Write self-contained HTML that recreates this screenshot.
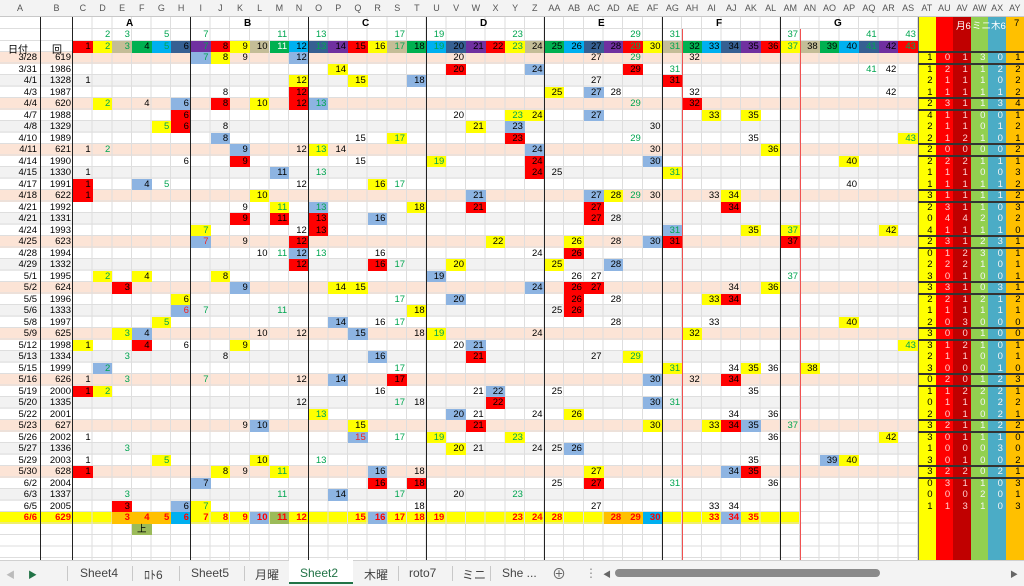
<!DOCTYPE html>
<html><head><meta charset="utf-8">
<style>
*{margin:0;padding:0;box-sizing:border-box}
body{width:1024px;height:586px;overflow:hidden;background:#fff;position:relative;font-family:"Liberation Sans","Noto Sans CJK JP",sans-serif;font-size:9.5px;color:#000}
.hd{position:absolute;left:0;top:0;width:1024px;height:17px;background:#f3f3f3;border-bottom:1px solid #c8c8c8}
.hd span{position:absolute;top:3px;color:#555;font-size:9px;text-align:center}
.st{position:absolute;left:0;width:918px;height:11.5px;top:calc(52px + var(--r)*11.5px)}
.P{background:#fce4d6}.G{background:#f2f2f2}.Y{background:#ffff00;width:800px}
.grid{position:absolute;left:73px;top:17px;width:845px;height:543px;background:repeating-linear-gradient(90deg,transparent 0 18.65px,#dedede 18.65px 19.65px)}
.hgrid{position:absolute;left:0;top:52px;width:918px;height:508px;background:repeating-linear-gradient(180deg,transparent 0 10.5px,#dedede 10.5px 11.5px)}
.hline{position:absolute;left:0;width:918px;height:1px;background:#dedede}
.R{position:absolute;left:0;width:918px;height:11.5px;top:calc(52px + var(--r)*11.5px)}
.R i,.H i{position:absolute;font-style:normal;left:calc(73px + (var(--c) - 1)*19.65px);width:19.65px;height:11.5px;line-height:11.5px;text-align:right;padding-right:2px}
.R b{position:absolute;font-weight:normal;height:11.5px;line-height:11.5px;text-align:right}
.R b.a{left:0;width:37px}.R b.n{left:40px;width:31px}
.y{background:#ffff00}.b{background:#8db4e2}.r{background:#ff0000}.g{color:#00a550}
.o{background:#ffc000}.cy{background:#00b0f0}.ol{background:#9bbb59}
.Z i,.Z b{color:#f00;font-weight:bold}
.H{position:absolute;left:0;width:918px;height:12px}
.H i{height:12px;line-height:12px}
.c1{background:#f00}.c2{background:#ff0}.c3{background:#c4bd97}.c4{background:#00b050}.c5{background:#00b0f0}.c6{background:#366092}.c7{background:#7030a0}
.vl{position:absolute;width:1px;background:#222}
.rl{position:absolute;width:1px;background:#f05050}
.sc{position:absolute;top:17px;height:543px;width:17.6px}
.st2{position:absolute;left:918px;width:106px;height:11.5px;top:calc(52px + var(--r)*11.5px);display:flex}
.st2 u{text-decoration:none;width:17.6px;text-align:right;padding-right:3px;line-height:11.5px}
.st2 u:nth-child(1),.st2 u:nth-child(6){color:#000}
.st2 u:nth-child(2),.st2 u:nth-child(3){color:#ffd0d0}
.st2 u:nth-child(4),.st2 u:nth-child(5){color:#f4f4f4}
.hl{position:absolute;left:918px;width:106px;height:1.5px;background:#333}
.tabs{position:absolute;left:0;top:560px;width:1024px;height:26px;background:#f3f3f3;border-top:1px solid #d0d0d0;font-size:12px;color:#444}
.tabs span{position:absolute;top:5px}
.sep{position:absolute;top:5px;width:1px;height:15px;background:#c8c8c8}
</style></head><body>
<div class="hd">
<span style="left:0;width:40px">A</span><span style="left:40px;width:33px">B</span>
<span style="left:73px;width:19.65px">C</span><span style="left:92.65px;width:19.65px">D</span><span style="left:112.3px;width:19.65px">E</span><span style="left:131.95px;width:19.65px">F</span><span style="left:151.6px;width:19.65px">G</span><span style="left:171.25px;width:19.65px">H</span><span style="left:190.9px;width:19.65px">I</span><span style="left:210.55px;width:19.65px">J</span><span style="left:230.2px;width:19.65px">K</span><span style="left:249.85px;width:19.65px">L</span><span style="left:269.5px;width:19.65px">M</span><span style="left:289.15px;width:19.65px">N</span><span style="left:308.8px;width:19.65px">O</span><span style="left:328.45px;width:19.65px">P</span><span style="left:348.1px;width:19.65px">Q</span><span style="left:367.75px;width:19.65px">R</span><span style="left:387.4px;width:19.65px">S</span><span style="left:407.05px;width:19.65px">T</span><span style="left:426.7px;width:19.65px">U</span><span style="left:446.35px;width:19.65px">V</span><span style="left:466px;width:19.65px">W</span><span style="left:485.65px;width:19.65px">X</span><span style="left:505.3px;width:19.65px">Y</span><span style="left:524.95px;width:19.65px">Z</span><span style="left:544.6px;width:19.65px">AA</span><span style="left:564.25px;width:19.65px">AB</span><span style="left:583.9px;width:19.65px">AC</span><span style="left:603.55px;width:19.65px">AD</span><span style="left:623.2px;width:19.65px">AE</span><span style="left:642.85px;width:19.65px">AF</span><span style="left:662.5px;width:19.65px">AG</span><span style="left:682.15px;width:19.65px">AH</span><span style="left:701.8px;width:19.65px">AI</span><span style="left:721.45px;width:19.65px">AJ</span><span style="left:741.1px;width:19.65px">AK</span><span style="left:760.75px;width:19.65px">AL</span><span style="left:780.4px;width:19.65px">AM</span><span style="left:800.05px;width:19.65px">AN</span><span style="left:819.7px;width:19.65px">AO</span><span style="left:839.35px;width:19.65px">AP</span><span style="left:859px;width:19.65px">AQ</span><span style="left:878.65px;width:19.65px">AR</span><span style="left:898.3px;width:19.65px">AS</span>
<span style="left:918px;width:17.6px">AT</span><span style="left:935.6px;width:17.6px">AU</span><span style="left:953.2px;width:17.6px">AV</span><span style="left:970.8px;width:17.6px">AW</span><span style="left:988.4px;width:17.6px">AX</span><span style="left:1006px;width:17.6px">AY</span>
</div>

<div class="st P" style="--r:0"></div><div class="st G" style="--r:2"></div><div class="st P" style="--r:4"></div><div class="st G" style="--r:6"></div><div class="st P" style="--r:8"></div><div class="st G" style="--r:10"></div><div class="st P" style="--r:12"></div><div class="st G" style="--r:14"></div><div class="st P" style="--r:16"></div><div class="st G" style="--r:18"></div><div class="st P" style="--r:20"></div><div class="st G" style="--r:22"></div><div class="st P" style="--r:24"></div><div class="st G" style="--r:26"></div><div class="st P" style="--r:28"></div><div class="st G" style="--r:30"></div><div class="st P" style="--r:32"></div><div class="st G" style="--r:34"></div><div class="st P" style="--r:36"></div><div class="st G" style="--r:38"></div><div class="st Y" style="--r:40"></div>
<div class="hgrid"></div>
<div class="hline" style="top:28px"></div><div class="hline" style="top:40px"></div><div class="hline" style="top:51px"></div>
<div class="grid"></div>

<div class="H" style="top:17px;font-weight:bold;font-size:10px">
<span style="position:absolute;left:126px;top:1px">A</span><span style="position:absolute;left:244px;top:1px">B</span><span style="position:absolute;left:362px;top:1px">C</span><span style="position:absolute;left:480px;top:1px">D</span><span style="position:absolute;left:598px;top:1px">E</span><span style="position:absolute;left:716px;top:1px">F</span><span style="position:absolute;left:834px;top:1px">G</span>
</div>
<div class="H" style="top:29px">
<i style="--c:2" class="g">2</i><i style="--c:3" class="g">3</i><i style="--c:5" class="g">5</i><i style="--c:7" class="g">7</i><i style="--c:11" class="g">11</i><i style="--c:13" class="g">13</i><i style="--c:17" class="g">17</i><i style="--c:19" class="g">19</i><i style="--c:23" class="g">23</i><i style="--c:29" class="g">29</i><i style="--c:31" class="g">31</i><i style="--c:37" class="g">37</i><i style="--c:41" class="g">41</i><i style="--c:43" class="g">43</i>
</div>
<div class="H" style="top:41px;height:11.5px">
<span style="position:absolute;left:8px;top:0;font-size:10px">日付</span><span style="position:absolute;left:52px;top:0;font-size:10px">回</span>
<i style="--c:1" class="c1">1</i><i style="--c:2" class="c2 g">2</i><i style="--c:3" class="c3 g">3</i><i style="--c:4" class="c4">4</i><i style="--c:5" class="c5 g">5</i><i style="--c:6" class="c6">6</i><i style="--c:7" class="c7 g">7</i><i style="--c:8" class="c1">8</i><i style="--c:9" class="c2">9</i><i style="--c:10" class="c3">10</i><i style="--c:11;color:#fff" class="c4">11</i><i style="--c:12" class="c5">12</i><i style="--c:13" class="c6 g">13</i><i style="--c:14" class="c7">14</i><i style="--c:15" class="c1">15</i><i style="--c:16" class="c2">16</i><i style="--c:17" class="c3 g">17</i><i style="--c:18" class="c4">18</i><i style="--c:19" class="c5 g">19</i><i style="--c:20" class="c6">20</i><i style="--c:21" class="c7">21</i><i style="--c:22" class="c1">22</i><i style="--c:23" class="c2 g">23</i><i style="--c:24" class="c3">24</i><i style="--c:25" class="c4">25</i><i style="--c:26" class="c5">26</i><i style="--c:27" class="c6">27</i><i style="--c:28" class="c7">28</i><i style="--c:29" class="c1 g">29</i><i style="--c:30" class="c2">30</i><i style="--c:31" class="c3 g">31</i><i style="--c:32" class="c4">32</i><i style="--c:33" class="c5">33</i><i style="--c:34" class="c6">34</i><i style="--c:35" class="c7">35</i><i style="--c:36" class="c1">36</i><i style="--c:37" class="c2 g">37</i><i style="--c:38" class="c3">38</i><i style="--c:39" class="c4">39</i><i style="--c:40" class="c5">40</i><i style="--c:41" class="c6 g">41</i><i style="--c:42" class="c7">42</i><i style="--c:43" class="c1 g">43</i>
</div>

<div class="R" style="--r:0"><b class="a">3/28</b><b class="n">619</b><i style="--c:7" class="b g">7</i><i style="--c:8" class="y">8</i><i style="--c:9">9</i><i style="--c:12" class="b">12</i><i style="--c:20">20</i><i style="--c:27">27</i><i style="--c:29" class="g">29</i><i style="--c:32">32</i></div>
<div class="R" style="--r:1"><b class="a">3/31</b><b class="n">1986</b><i style="--c:14" class="y">14</i><i style="--c:20" class="r">20</i><i style="--c:24" class="b">24</i><i style="--c:29" class="r">29</i><i style="--c:31" class="g">31</i><i style="--c:41" class="g">41</i><i style="--c:42">42</i></div>
<div class="R" style="--r:2"><b class="a">4/1</b><b class="n">1328</b><i style="--c:1">1</i><i style="--c:12" class="y">12</i><i style="--c:15" class="y">15</i><i style="--c:18" class="b">18</i><i style="--c:27">27</i><i style="--c:31" class="r">31</i></div>
<div class="R" style="--r:3"><b class="a">4/3</b><b class="n">1987</b><i style="--c:8">8</i><i style="--c:12" class="r">12</i><i style="--c:25" class="y">25</i><i style="--c:27" class="b">27</i><i style="--c:28">28</i><i style="--c:32">32</i><i style="--c:42">42</i></div>
<div class="R" style="--r:4"><b class="a">4/4</b><b class="n">620</b><i style="--c:2" class="y g">2</i><i style="--c:4">4</i><i style="--c:6" class="b">6</i><i style="--c:8" class="r">8</i><i style="--c:10" class="y">10</i><i style="--c:12" class="r">12</i><i style="--c:13" class="b g">13</i><i style="--c:29" class="g">29</i><i style="--c:32" class="r">32</i></div>
<div class="R" style="--r:5"><b class="a">4/7</b><b class="n">1988</b><i style="--c:6" class="r">6</i><i style="--c:20">20</i><i style="--c:23" class="y g">23</i><i style="--c:24" class="y">24</i><i style="--c:27" class="b">27</i><i style="--c:33" class="y">33</i><i style="--c:35" class="y">35</i></div>
<div class="R" style="--r:6"><b class="a">4/8</b><b class="n">1329</b><i style="--c:5" class="y g">5</i><i style="--c:6" class="r">6</i><i style="--c:8">8</i><i style="--c:21" class="y">21</i><i style="--c:23" class="b">23</i><i style="--c:30">30</i></div>
<div class="R" style="--r:7"><b class="a">4/10</b><b class="n">1989</b><i style="--c:8" class="b">8</i><i style="--c:15">15</i><i style="--c:17" class="y g">17</i><i style="--c:23" class="r">23</i><i style="--c:29" class="g">29</i><i style="--c:35">35</i><i style="--c:43" class="y g">43</i></div>
<div class="R" style="--r:8"><b class="a">4/11</b><b class="n">621</b><i style="--c:1">1</i><i style="--c:2" class="g">2</i><i style="--c:9" class="b">9</i><i style="--c:12">12</i><i style="--c:13" class="y g">13</i><i style="--c:14">14</i><i style="--c:24" class="b">24</i><i style="--c:30">30</i><i style="--c:36" class="y">36</i></div>
<div class="R" style="--r:9"><b class="a">4/14</b><b class="n">1990</b><i style="--c:6">6</i><i style="--c:9" class="r">9</i><i style="--c:15">15</i><i style="--c:19" class="y g">19</i><i style="--c:24" class="r">24</i><i style="--c:30" class="b">30</i><i style="--c:40" class="y">40</i></div>
<div class="R" style="--r:10"><b class="a">4/15</b><b class="n">1330</b><i style="--c:1">1</i><i style="--c:11" class="b">11</i><i style="--c:13" class="g">13</i><i style="--c:24" class="r">24</i><i style="--c:25">25</i><i style="--c:31" class="y g">31</i></div>
<div class="R" style="--r:11"><b class="a">4/17</b><b class="n">1991</b><i style="--c:1" class="r">1</i><i style="--c:4" class="b">4</i><i style="--c:5" class="g">5</i><i style="--c:12">12</i><i style="--c:16" class="y">16</i><i style="--c:17" class="g">17</i><i style="--c:40">40</i></div>
<div class="R" style="--r:12"><b class="a">4/18</b><b class="n">622</b><i style="--c:1" class="r">1</i><i style="--c:10" class="y">10</i><i style="--c:21" class="b">21</i><i style="--c:27" class="b">27</i><i style="--c:28" class="y">28</i><i style="--c:29" class="g">29</i><i style="--c:30">30</i><i style="--c:33">33</i><i style="--c:34" class="y">34</i></div>
<div class="R" style="--r:13"><b class="a">4/21</b><b class="n">1992</b><i style="--c:9">9</i><i style="--c:11" class="y g">11</i><i style="--c:13" class="b g">13</i><i style="--c:18" class="y">18</i><i style="--c:21" class="r">21</i><i style="--c:27" class="r">27</i><i style="--c:34" class="r">34</i></div>
<div class="R" style="--r:14"><b class="a">4/21</b><b class="n">1331</b><i style="--c:9" class="r">9</i><i style="--c:11" class="r">11</i><i style="--c:13" class="r">13</i><i style="--c:16" class="b">16</i><i style="--c:27" class="r">27</i><i style="--c:28">28</i></div>
<div class="R" style="--r:15"><b class="a">4/24</b><b class="n">1993</b><i style="--c:7" class="y g">7</i><i style="--c:12">12</i><i style="--c:13" class="r">13</i><i style="--c:31" class="b g">31</i><i style="--c:35" class="y">35</i><i style="--c:37" class="y g">37</i><i style="--c:42" class="y">42</i></div>
<div class="R" style="--r:16"><b class="a">4/25</b><b class="n">623</b><i style="--c:7;color:#e22" class="b">7</i><i style="--c:9">9</i><i style="--c:12" class="r">12</i><i style="--c:22" class="y">22</i><i style="--c:26" class="y">26</i><i style="--c:28">28</i><i style="--c:30" class="b">30</i><i style="--c:31" class="r">31</i><i style="--c:37" class="r">37</i></div>
<div class="R" style="--r:17"><b class="a">4/28</b><b class="n">1994</b><i style="--c:10">10</i><i style="--c:11" class="g">11</i><i style="--c:12" class="b">12</i><i style="--c:13" class="g">13</i><i style="--c:16">16</i><i style="--c:24">24</i><i style="--c:26" class="r">26</i></div>
<div class="R" style="--r:18"><b class="a">4/29</b><b class="n">1332</b><i style="--c:12" class="r">12</i><i style="--c:16" class="r">16</i><i style="--c:17" class="g">17</i><i style="--c:20" class="y">20</i><i style="--c:25" class="y">25</i><i style="--c:28" class="b">28</i></div>
<div class="R" style="--r:19"><b class="a">5/1</b><b class="n">1995</b><i style="--c:2" class="y g">2</i><i style="--c:4" class="y">4</i><i style="--c:8" class="y">8</i><i style="--c:19" class="b">19</i><i style="--c:26">26</i><i style="--c:27">27</i><i style="--c:37" class="g">37</i></div>
<div class="R" style="--r:20"><b class="a">5/2</b><b class="n">624</b><i style="--c:3" class="r">3</i><i style="--c:9" class="b">9</i><i style="--c:14" class="y">14</i><i style="--c:15" class="y">15</i><i style="--c:24" class="b">24</i><i style="--c:26" class="r">26</i><i style="--c:27" class="r">27</i><i style="--c:34">34</i><i style="--c:36" class="y">36</i></div>
<div class="R" style="--r:21"><b class="a">5/5</b><b class="n">1996</b><i style="--c:6" class="y">6</i><i style="--c:17" class="g">17</i><i style="--c:20" class="b">20</i><i style="--c:26" class="r">26</i><i style="--c:28">28</i><i style="--c:33" class="y">33</i><i style="--c:34" class="r">34</i></div>
<div class="R" style="--r:22"><b class="a">5/6</b><b class="n">1333</b><i style="--c:6;color:#e22" class="b">6</i><i style="--c:7" class="g">7</i><i style="--c:11" class="g">11</i><i style="--c:18" class="y">18</i><i style="--c:25">25</i><i style="--c:26" class="r">26</i></div>
<div class="R" style="--r:23"><b class="a">5/8</b><b class="n">1997</b><i style="--c:5" class="y g">5</i><i style="--c:14" class="b">14</i><i style="--c:16">16</i><i style="--c:17" class="g">17</i><i style="--c:28">28</i><i style="--c:33">33</i><i style="--c:40" class="y">40</i></div>
<div class="R" style="--r:24"><b class="a">5/9</b><b class="n">625</b><i style="--c:3" class="y g">3</i><i style="--c:4" class="b">4</i><i style="--c:10">10</i><i style="--c:12">12</i><i style="--c:15" class="b">15</i><i style="--c:18">18</i><i style="--c:19" class="y g">19</i><i style="--c:24">24</i><i style="--c:32" class="y">32</i></div>
<div class="R" style="--r:25"><b class="a">5/12</b><b class="n">1998</b><i style="--c:1" class="y">1</i><i style="--c:4" class="r">4</i><i style="--c:6">6</i><i style="--c:9" class="y">9</i><i style="--c:20">20</i><i style="--c:21" class="b">21</i><i style="--c:43" class="y g">43</i></div>
<div class="R" style="--r:26"><b class="a">5/13</b><b class="n">1334</b><i style="--c:3" class="g">3</i><i style="--c:8">8</i><i style="--c:16" class="b">16</i><i style="--c:21" class="r">21</i><i style="--c:27">27</i><i style="--c:29" class="y g">29</i></div>
<div class="R" style="--r:27"><b class="a">5/15</b><b class="n">1999</b><i style="--c:2" class="b g">2</i><i style="--c:17" class="g">17</i><i style="--c:31" class="y g">31</i><i style="--c:34">34</i><i style="--c:35" class="y">35</i><i style="--c:36">36</i><i style="--c:38" class="y">38</i></div>
<div class="R" style="--r:28"><b class="a">5/16</b><b class="n">626</b><i style="--c:1">1</i><i style="--c:3" class="g">3</i><i style="--c:7" class="g">7</i><i style="--c:12">12</i><i style="--c:14" class="b">14</i><i style="--c:17" class="r">17</i><i style="--c:30" class="b">30</i><i style="--c:32">32</i><i style="--c:34" class="r">34</i></div>
<div class="R" style="--r:29"><b class="a">5/19</b><b class="n">2000</b><i style="--c:1" class="r">1</i><i style="--c:2" class="y g">2</i><i style="--c:16">16</i><i style="--c:21">21</i><i style="--c:22" class="b">22</i><i style="--c:25">25</i><i style="--c:35">35</i></div>
<div class="R" style="--r:30"><b class="a">5/20</b><b class="n">1335</b><i style="--c:12">12</i><i style="--c:17" class="g">17</i><i style="--c:18">18</i><i style="--c:22" class="r">22</i><i style="--c:30" class="b">30</i><i style="--c:31" class="g">31</i></div>
<div class="R" style="--r:31"><b class="a">5/22</b><b class="n">2001</b><i style="--c:13" class="y g">13</i><i style="--c:20" class="b">20</i><i style="--c:21">21</i><i style="--c:24">24</i><i style="--c:26" class="y">26</i><i style="--c:34">34</i><i style="--c:36">36</i></div>
<div class="R" style="--r:32"><b class="a">5/23</b><b class="n">627</b><i style="--c:9">9</i><i style="--c:10" class="b">10</i><i style="--c:15" class="y">15</i><i style="--c:21" class="r">21</i><i style="--c:30" class="y">30</i><i style="--c:33" class="y">33</i><i style="--c:34" class="r">34</i><i style="--c:35" class="b">35</i><i style="--c:37" class="g">37</i></div>
<div class="R" style="--r:33"><b class="a">5/26</b><b class="n">2002</b><i style="--c:1">1</i><i style="--c:15;color:#e22" class="b">15</i><i style="--c:17" class="g">17</i><i style="--c:19" class="y g">19</i><i style="--c:23" class="y g">23</i><i style="--c:36">36</i><i style="--c:42" class="y">42</i></div>
<div class="R" style="--r:34"><b class="a">5/27</b><b class="n">1336</b><i style="--c:3" class="g">3</i><i style="--c:20" class="y">20</i><i style="--c:21">21</i><i style="--c:24">24</i><i style="--c:25">25</i><i style="--c:26" class="b">26</i></div>
<div class="R" style="--r:35"><b class="a">5/29</b><b class="n">2003</b><i style="--c:1">1</i><i style="--c:5" class="y g">5</i><i style="--c:10" class="y">10</i><i style="--c:13" class="g">13</i><i style="--c:35">35</i><i style="--c:39" class="b">39</i><i style="--c:40" class="y">40</i></div>
<div class="R" style="--r:36"><b class="a">5/30</b><b class="n">628</b><i style="--c:1" class="r">1</i><i style="--c:8" class="y">8</i><i style="--c:9">9</i><i style="--c:11" class="y g">11</i><i style="--c:16" class="b">16</i><i style="--c:18">18</i><i style="--c:27" class="y">27</i><i style="--c:34" class="b">34</i><i style="--c:35" class="r">35</i></div>
<div class="R" style="--r:37"><b class="a">6/2</b><b class="n">2004</b><i style="--c:7" class="b">7</i><i style="--c:16" class="r">16</i><i style="--c:18" class="r">18</i><i style="--c:25">25</i><i style="--c:27" class="r">27</i><i style="--c:31" class="g">31</i><i style="--c:36">36</i></div>
<div class="R" style="--r:38"><b class="a">6/3</b><b class="n">1337</b><i style="--c:3" class="g">3</i><i style="--c:11" class="g">11</i><i style="--c:14" class="b">14</i><i style="--c:17" class="g">17</i><i style="--c:20">20</i><i style="--c:23" class="g">23</i></div>
<div class="R" style="--r:39"><b class="a">6/5</b><b class="n">2005</b><i style="--c:3" class="r">3</i><i style="--c:6" class="b">6</i><i style="--c:7" class="y g">7</i><i style="--c:18">18</i><i style="--c:27">27</i><i style="--c:33">33</i><i style="--c:34">34</i></div>
<div class="R Z" style="--r:40"><b class="a">6/6</b><b class="n">629</b><i style="--c:3" class="o">3</i><i style="--c:4" class="o">4</i><i style="--c:5" class="o">5</i><i style="--c:6" class="cy">6</i><i style="--c:7">7</i><i style="--c:8">8</i><i style="--c:9">9</i><i style="--c:10" class="b">10</i><i style="--c:11" class="ol">11</i><i style="--c:12">12</i><i style="--c:15">15</i><i style="--c:16" class="b">16</i><i style="--c:17">17</i><i style="--c:18">18</i><i style="--c:19">19</i><i style="--c:23">23</i><i style="--c:24">24</i><i style="--c:25">28</i><i style="--c:28" class="o">28</i><i style="--c:29" class="o">29</i><i style="--c:30" class="cy">30</i><i style="--c:33">33</i><i style="--c:34" class="b">34</i><i style="--c:35">35</i></div>
<div class="R" style="--r:41"><i style="--c:4;text-align:center;padding:0" class="ol">上</i></div>

<div class="vl" style="left:40px;top:17px;height:543px"></div>
<div class="vl" style="left:72px;top:17px;height:543px"></div>
<div class="vl" style="left:190px;top:17px;height:543px"></div>
<div class="vl" style="left:308px;top:17px;height:543px"></div>
<div class="vl" style="left:426px;top:17px;height:543px"></div>
<div class="vl" style="left:544px;top:17px;height:543px"></div>
<div class="vl" style="left:662px;top:17px;height:543px"></div>
<div class="vl" style="left:780px;top:17px;height:543px"></div>
<div class="rl" style="left:682px;top:29px;height:531px"></div>
<div class="rl" style="left:800px;top:29px;height:531px"></div>

<div class="sc" style="left:918px;background:#ffff00;border-left:1.5px solid #666"></div>
<div class="sc" style="left:935.6px;background:#ff0000"></div>
<div class="sc" style="left:953.2px;background:#c00000"></div>
<div class="sc" style="left:970.8px;background:#92d050"></div>
<div class="sc" style="left:988.4px;background:#4bacc6"></div>
<div class="sc" style="left:1006px;width:18px;background:#ffc000"></div>
<div style="position:absolute;top:18px;left:953px;width:71px;height:11px;font-size:9.5px;color:#fff">
<span style="position:absolute;left:3px">月6</span><span style="position:absolute;left:19px">ミニ</span><span style="position:absolute;left:38px">木6</span><span style="position:absolute;left:61px;color:#000">7</span></div>
<div class="st2" style="--r:0"><u>1</u><u>0</u><u>1</u><u>3</u><u>0</u><u>1</u></div>
<div class="st2" style="--r:1"><u>1</u><u>2</u><u>1</u><u>1</u><u>2</u><u>2</u></div>
<div class="st2" style="--r:2"><u>2</u><u>1</u><u>1</u><u>1</u><u>0</u><u>2</u></div>
<div class="st2" style="--r:3"><u>1</u><u>1</u><u>1</u><u>1</u><u>1</u><u>2</u></div>
<div class="st2" style="--r:4"><u>2</u><u>3</u><u>1</u><u>1</u><u>3</u><u>4</u></div>
<div class="st2" style="--r:5"><u>4</u><u>1</u><u>1</u><u>0</u><u>0</u><u>1</u></div>
<div class="st2" style="--r:6"><u>2</u><u>1</u><u>1</u><u>0</u><u>1</u><u>2</u></div>
<div class="st2" style="--r:7"><u>2</u><u>1</u><u>2</u><u>1</u><u>0</u><u>1</u></div>
<div class="st2" style="--r:8"><u>2</u><u>0</u><u>0</u><u>0</u><u>0</u><u>2</u></div>
<div class="st2" style="--r:9"><u>2</u><u>2</u><u>2</u><u>1</u><u>1</u><u>1</u></div>
<div class="st2" style="--r:10"><u>1</u><u>1</u><u>1</u><u>0</u><u>0</u><u>3</u></div>
<div class="st2" style="--r:11"><u>1</u><u>1</u><u>1</u><u>1</u><u>1</u><u>2</u></div>
<div class="st2" style="--r:12"><u>3</u><u>1</u><u>1</u><u>1</u><u>1</u><u>2</u></div>
<div class="st2" style="--r:13"><u>2</u><u>3</u><u>1</u><u>1</u><u>0</u><u>3</u></div>
<div class="st2" style="--r:14"><u>0</u><u>4</u><u>4</u><u>2</u><u>0</u><u>2</u></div>
<div class="st2" style="--r:15"><u>4</u><u>1</u><u>1</u><u>1</u><u>1</u><u>0</u></div>
<div class="st2" style="--r:16"><u>2</u><u>3</u><u>1</u><u>2</u><u>3</u><u>1</u></div>
<div class="st2" style="--r:17"><u>0</u><u>1</u><u>2</u><u>3</u><u>0</u><u>1</u></div>
<div class="st2" style="--r:18"><u>2</u><u>2</u><u>2</u><u>1</u><u>0</u><u>1</u></div>
<div class="st2" style="--r:19"><u>3</u><u>0</u><u>1</u><u>0</u><u>0</u><u>1</u></div>
<div class="st2" style="--r:20"><u>3</u><u>3</u><u>1</u><u>0</u><u>3</u><u>1</u></div>
<div class="st2" style="--r:21"><u>2</u><u>2</u><u>1</u><u>2</u><u>1</u><u>2</u></div>
<div class="st2" style="--r:22"><u>1</u><u>1</u><u>1</u><u>1</u><u>1</u><u>1</u></div>
<div class="st2" style="--r:23"><u>2</u><u>0</u><u>3</u><u>0</u><u>0</u><u>0</u></div>
<div class="st2" style="--r:24"><u>3</u><u>0</u><u>0</u><u>1</u><u>0</u><u>0</u></div>
<div class="st2" style="--r:25"><u>3</u><u>1</u><u>2</u><u>1</u><u>0</u><u>1</u></div>
<div class="st2" style="--r:26"><u>2</u><u>1</u><u>1</u><u>0</u><u>0</u><u>1</u></div>
<div class="st2" style="--r:27"><u>3</u><u>0</u><u>0</u><u>0</u><u>1</u><u>0</u></div>
<div class="st2" style="--r:28"><u>0</u><u>2</u><u>0</u><u>1</u><u>2</u><u>3</u></div>
<div class="st2" style="--r:29"><u>1</u><u>1</u><u>2</u><u>2</u><u>2</u><u>1</u></div>
<div class="st2" style="--r:30"><u>0</u><u>1</u><u>1</u><u>0</u><u>2</u><u>2</u></div>
<div class="st2" style="--r:31"><u>2</u><u>0</u><u>1</u><u>0</u><u>2</u><u>1</u></div>
<div class="st2" style="--r:32"><u>3</u><u>2</u><u>1</u><u>1</u><u>2</u><u>2</u></div>
<div class="st2" style="--r:33"><u>3</u><u>0</u><u>1</u><u>1</u><u>1</u><u>0</u></div>
<div class="st2" style="--r:34"><u>1</u><u>0</u><u>0</u><u>0</u><u>3</u><u>0</u></div>
<div class="st2" style="--r:35"><u>3</u><u>0</u><u>1</u><u>0</u><u>0</u><u>2</u></div>
<div class="st2" style="--r:36"><u>3</u><u>2</u><u>2</u><u>0</u><u>2</u><u>1</u></div>
<div class="st2" style="--r:37"><u>0</u><u>3</u><u>1</u><u>1</u><u>0</u><u>3</u></div>
<div class="st2" style="--r:38"><u>0</u><u>0</u><u>0</u><u>2</u><u>0</u><u>1</u></div>
<div class="st2" style="--r:39"><u>1</u><u>1</u><u>3</u><u>1</u><u>0</u><u>3</u></div>
<div class="hl" style="top:51px"></div><div class="hl" style="top:63px"></div>
<div class="hl" style="top:97px"></div><div class="hl" style="top:109px"></div>
<div class="hl" style="top:143px"></div><div class="hl" style="top:155px"></div>
<div class="hl" style="top:189px"></div><div class="hl" style="top:201px"></div>
<div class="hl" style="top:235px"></div><div class="hl" style="top:247px"></div>
<div class="hl" style="top:281px"></div><div class="hl" style="top:293px"></div>
<div class="hl" style="top:327px"></div><div class="hl" style="top:339px"></div>
<div class="hl" style="top:373px"></div><div class="hl" style="top:385px"></div>
<div class="hl" style="top:419px"></div><div class="hl" style="top:431px"></div>
<div class="hl" style="top:465px"></div><div class="hl" style="top:477px"></div>

<div class="tabs">
<span style="left:6px;color:#bbb;font-size:9px;top:7px">◀</span><span style="left:28px;color:#217346;font-size:9px;top:7px">▶</span>
<div class="sep" style="left:67px"></div><span style="left:80px">Sheet4</span>
<div class="sep" style="left:132px"></div><span style="left:144px">ﾛﾄ6</span>
<div class="sep" style="left:179px"></div><span style="left:191px">Sheet5</span>
<div class="sep" style="left:244px"></div><span style="left:255px">月曜</span>
<div style="position:absolute;left:289px;top:-1px;width:64px;height:24px;background:#fff;border-bottom:2px solid #217346"></div><span style="left:300px;color:#217346">Sheet2</span>
<div class="sep" style="left:398px"></div><span style="left:364px">木曜</span>
<span style="left:409px">roto7</span>
<div class="sep" style="left:452px"></div><span style="left:462px">ミニ</span>
<div class="sep" style="left:490px"></div><span style="left:502px">She ...</span>
<span style="left:552px;font-size:14px;top:3px;color:#666">⊕</span>
<span style="left:585px;color:#888">⋮</span>
<span style="left:603px;font-size:8px;top:8px;color:#666">◀</span>
<div style="position:absolute;left:615px;top:8px;width:265px;height:8px;background:#8a8a8a;border-radius:4px"></div>
<span style="left:1010px;font-size:8px;top:8px;color:#666">▶</span>
</div>
</body></html>
